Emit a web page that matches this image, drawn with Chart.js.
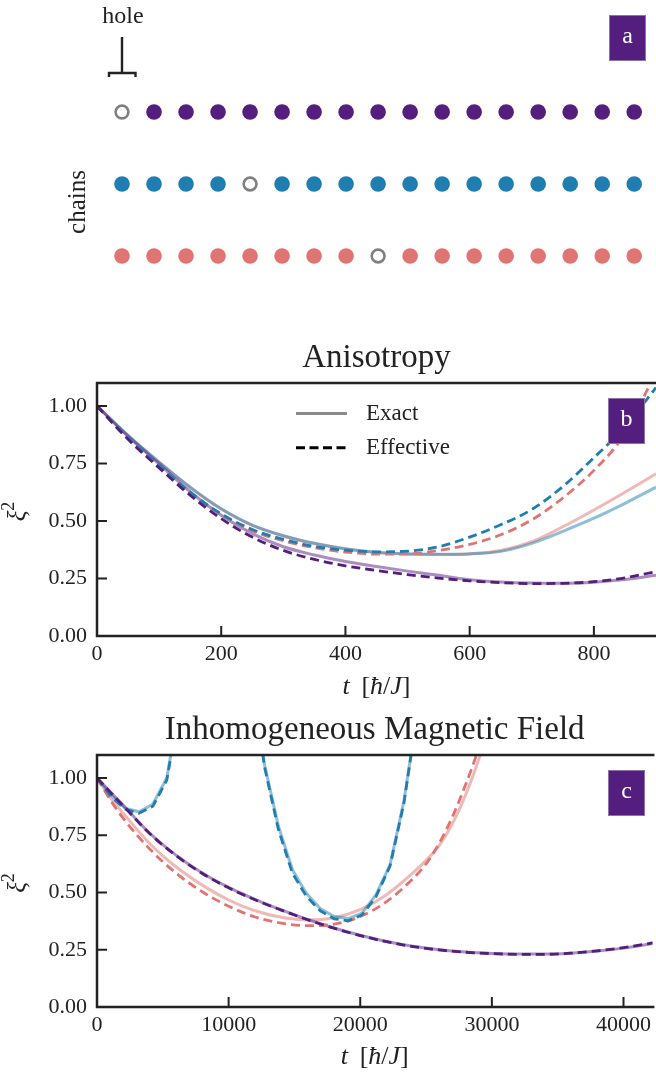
<!DOCTYPE html>
<html>
<head>
<meta charset="utf-8">
<script src="https://cdn.jsdelivr.net/npm/chart.js@4.4.1/dist/chart.umd.min.js"></script>
<style>
  body { margin: 0; background: #fff; width: 656px; height: 1077px; overflow: hidden; position: relative; }
  canvas { position: absolute; left: 0; }
</style>
</head>
<body>
<canvas id="chainChart" width="656" height="300" style="top:0"></canvas>
<canvas id="anisoChart" width="656" height="380" style="top:330px"></canvas>
<canvas id="fieldChart" width="656" height="377" style="top:700px"></canvas>
<script>
// ---- panel a: three chains of sites, one hole per chain ----
const sites = [0, 1, 2, 3, 4, 5, 6, 7, 8, 9, 10, 11, 12, 13, 14, 15, 16];
const chainRows = [2, 1, 0];          // purple on top, blue, red at the bottom
const holeSites = [0, 4, 8];          // where the hole sits in each chain

// ---- panel b: anisotropy ----
const anisoTime = [0, 50, 100, 150, 200, 250, 300, 350, 400, 450, 500, 550, 600, 650, 700, 750, 800, 850, 900];
const anisoPurpleExact = [1.0, 0.868, 0.748, 0.628, 0.525, 0.445, 0.388, 0.352, 0.324, 0.302, 0.282, 0.264, 0.245, 0.235, 0.23, 0.229, 0.234, 0.246, 0.264];
const anisoPurpleEff   = [1.0, 0.855, 0.731, 0.612, 0.51, 0.43, 0.372, 0.333, 0.305, 0.285, 0.267, 0.252, 0.24, 0.232, 0.228, 0.229, 0.236, 0.253, 0.28];
const anisoBlueExact   = [1.0, 0.872, 0.756, 0.647, 0.553, 0.482, 0.436, 0.403, 0.379, 0.364, 0.357, 0.355, 0.357, 0.368, 0.403, 0.455, 0.512, 0.577, 0.647];
const anisoBlueEff     = [1.0, 0.862, 0.741, 0.625, 0.531, 0.463, 0.42, 0.39, 0.373, 0.366, 0.369, 0.388, 0.43, 0.484, 0.55, 0.65, 0.775, 0.91, 1.08];
const anisoRedExact    = [1.0, 0.871, 0.755, 0.646, 0.552, 0.481, 0.435, 0.402, 0.378, 0.363, 0.356, 0.354, 0.358, 0.372, 0.41, 0.475, 0.548, 0.625, 0.705];
const anisoRedEff      = [1.0, 0.862, 0.74, 0.623, 0.528, 0.458, 0.414, 0.384, 0.365, 0.356, 0.357, 0.372, 0.398, 0.44, 0.505, 0.6, 0.72, 0.88, 1.15];
const anisoTicksX = [0, 200, 400, 600, 800];

// ---- panel c: inhomogeneous magnetic field ----
const fieldTime = [0, 1000, 2000, 4000, 6000, 8000, 10000, 12000, 14000, 16000, 18000, 20000, 22000, 24000, 26000, 28000, 30000, 32000, 34000, 36000, 38000, 40000, 42000, 44000];
const fieldPurpleExact = [1.0, 0.94, 0.88, 0.759, 0.663, 0.585, 0.522, 0.47, 0.424, 0.382, 0.345, 0.313, 0.286, 0.265, 0.25, 0.24, 0.234, 0.231, 0.231, 0.235, 0.244, 0.257, 0.275, 0.297];
const fieldPurpleEff   = [1.0, 0.938, 0.878, 0.757, 0.661, 0.583, 0.52, 0.468, 0.423, 0.381, 0.344, 0.312, 0.285, 0.264, 0.249, 0.239, 0.233, 0.23, 0.23, 0.235, 0.245, 0.259, 0.278, 0.3];
const fieldRedTime  = [0, 1000, 2000, 4000, 6000, 8000, 10000, 12000, 14000, 16000, 18000, 20000, 22000, 24000, 25000, 26000, 27000, 28000, 29000, 30000];
const fieldRedExact = [1.0, 0.915, 0.845, 0.714, 0.612, 0.532, 0.467, 0.42, 0.392, 0.38, 0.39, 0.425, 0.49, 0.585, 0.64, 0.705, 0.8, 0.925, 1.08, 1.27];
const fieldRedEff   = [1.0, 0.905, 0.823, 0.69, 0.585, 0.503, 0.44, 0.393, 0.366, 0.355, 0.362, 0.395, 0.46, 0.56, 0.625, 0.715, 0.83, 0.97, 1.13, 1.32];
// the blue chain is sampled coarsely, so it is drawn as straight segments
const fieldBlueTime  = [0, 1060, 2120, 3180, 4240, 5300, 6360, 7420, 8480, 9540, 10600, 11660, 12720, 13780, 14840, 15900, 16960, 18020, 19080, 20140, 21200, 22260, 23320, 24380, 25440];
const fieldBlueExact = [1.0, 0.925, 0.868, 0.852, 0.885, 1.0, 1.35, 1.7, 1.9, 1.95, 1.85, 1.5, 1.06, 0.79, 0.6, 0.496, 0.43, 0.395, 0.386, 0.41, 0.49, 0.62, 0.9, 1.3, 1.7];
const fieldBlueEff   = [1.0, 0.92, 0.864, 0.846, 0.876, 0.99, 1.34, 1.7, 1.9, 1.95, 1.85, 1.5, 1.05, 0.775, 0.585, 0.484, 0.42, 0.385, 0.376, 0.402, 0.482, 0.615, 0.89, 1.3, 1.7];
const fieldTicksX = [0, 10000, 20000, 30000, 40000];

const xiTicks = [0, 0.25, 0.5, 0.75, 1.0];

// styling
const INK = '#222222';
const SERIF = '"Liberation Serif", "Times New Roman", serif';
const PURPLE = '#531e7e', BLUE = '#1f7db0', RED = '#df7470';
const PURPLE_LIGHT = 'rgba(83,30,126,0.5)', BLUE_LIGHT = 'rgba(31,125,176,0.5)', RED_LIGHT = 'rgba(223,116,112,0.5)';
const chainColors = [PURPLE, BLUE, RED];

function pairs(xs, ys) {
    return ys.map((y, i) => ({ x: xs[i], y: y }));
}

function exactLine(xs, ys, color, smooth) {
    return {
        data: pairs(xs, ys), borderColor: color, borderWidth: 3, pointRadius: 0,
        cubicInterpolationMode: smooth ? 'monotone' : 'default', tension: 0, order: 2
    };
}

function effectiveLine(xs, ys, color, smooth) {
    return {
        data: pairs(xs, ys), borderColor: color, borderWidth: 2.8, borderDash: [9, 5], pointRadius: 0,
        cubicInterpolationMode: smooth ? 'monotone' : 'default', tension: 0, order: 1
    };
}

// purple tag with a white letter in the top right corner
function drawTag(ctx, letter, x, y) {
    ctx.save();
    ctx.fillStyle = PURPLE;
    ctx.fillRect(x, y, 37, 46);
    ctx.strokeStyle = '#8d73a8';
    ctx.lineWidth = 1;
    ctx.strokeRect(x + 0.5, y + 0.5, 36, 45);
    ctx.fillStyle = '#fff';
    ctx.font = '24px ' + SERIF;
    ctx.textAlign = 'center';
    ctx.textBaseline = 'middle';
    ctx.fillText(letter, x + 18.5, y + 22);
    ctx.restore();
}

// text made of upright and italic pieces, centred on cx, baseline at y
function drawMixed(ctx, parts, cx, y, size) {
    const fontOf = p => (p[1] ? 'italic ' : '') + Math.round(size * (p[2] || 1)) + 'px ' + SERIF;
    let total = 0;
    parts.forEach(p => { ctx.font = fontOf(p); total += ctx.measureText(p[0]).width; });
    let x = cx - total / 2;
    ctx.textAlign = 'left';
    ctx.textBaseline = 'alphabetic';
    parts.forEach(p => {
        ctx.font = fontOf(p);
        ctx.fillText(p[0], x, y - (p[3] || 0));
        x += ctx.measureText(p[0]).width;
    });
}

const chainNotes = {
    id: 'chainNotes',
    afterDraw(chart) {
        const ctx = chart.ctx;
        const hx = chart.scales.x.getPixelForValue(holeSites[0]);
        ctx.save();
        ctx.strokeStyle = INK;
        ctx.lineWidth = 2.4;
        ctx.beginPath();
        ctx.moveTo(hx, 37); ctx.lineTo(hx, 73);
        ctx.moveTo(hx - 13, 77); ctx.lineTo(hx - 13, 73); ctx.lineTo(hx + 13.5, 73); ctx.lineTo(hx + 13.5, 77);
        ctx.stroke();
        ctx.fillStyle = INK;
        ctx.font = '24px ' + SERIF;
        ctx.textAlign = 'center';
        ctx.textBaseline = 'alphabetic';
        ctx.fillText('hole', hx + 1, 22.5);
        ctx.translate(78, 202);
        ctx.rotate(-Math.PI / 2);
        ctx.font = '25px ' + SERIF;
        ctx.textBaseline = 'middle';
        ctx.fillText('chains', 0, 0);
        ctx.restore();
        drawTag(ctx, 'a', 609, 15);
    }
};

// matplotlib-like frame: title over the axes, inward ticks, spines, axis titles, tag, legend
const mplAxes = {
    id: 'mplAxes',
    afterDatasetsDraw(chart, args, opts) {
        const ctx = chart.ctx, a = chart.chartArea;
        const sx = chart.scales.x, sy = chart.scales.y;
        const midX = (a.left + a.right) / 2;
        ctx.save();
        ctx.strokeStyle = INK;
        ctx.lineWidth = 2;
        ctx.beginPath();
        opts.xTicks.forEach(v => { const p = sx.getPixelForValue(v); ctx.moveTo(p, a.bottom); ctx.lineTo(p, a.bottom - 10); });
        xiTicks.forEach(v => { const p = sy.getPixelForValue(v); ctx.moveTo(a.left, p); ctx.lineTo(a.left + 10, p); });
        ctx.stroke();
        ctx.lineWidth = 2.5;
        ctx.beginPath();
        ctx.moveTo(a.right + 2, a.top); ctx.lineTo(a.left, a.top); ctx.lineTo(a.left, a.bottom); ctx.lineTo(a.right + 2, a.bottom);
        ctx.stroke();

        ctx.fillStyle = INK;
        ctx.font = '33px ' + SERIF;
        ctx.textAlign = 'center';
        ctx.textBaseline = 'alphabetic';
        ctx.fillText(opts.title, midX, opts.titleY);

        drawMixed(ctx, [['t', true], [' \u2009[', false], ['ħ', true], ['/', false], ['J', true], [']', false]],
                  midX, opts.xTitleY, 26);
        ctx.save();
        ctx.translate(25, (a.top + a.bottom) / 2 + 2);
        ctx.rotate(-Math.PI / 2);
        drawMixed(ctx, [['ξ', true], ['2', false, 0.7, 11]], 0, 0, 25);
        ctx.restore();

        if (opts.legend) {
            ctx.lineWidth = 3;
            ctx.strokeStyle = '#8a8a8a';
            ctx.beginPath(); ctx.moveTo(296, 83.5); ctx.lineTo(347, 83.5); ctx.stroke();
            ctx.strokeStyle = '#000';
            ctx.setLineDash([9, 4.5]);
            ctx.beginPath(); ctx.moveTo(296, 117.7); ctx.lineTo(347, 117.7); ctx.stroke();
            ctx.setLineDash([]);
            ctx.font = '23px ' + SERIF;
            ctx.textAlign = 'left';
            ctx.textBaseline = 'middle';
            ctx.fillText('Exact', 366, 84);
            ctx.fillText('Effective', 366, 118);
        }
        ctx.restore();
        drawTag(ctx, opts.tag, 608, opts.tagTop);
    }
};

// panel a
new Chart(document.getElementById('chainChart'), {
    type: 'scatter',
    data: {
        datasets: chainRows.map((row, c) => ({
            data: sites.map(s => ({ x: s, y: row })),
            pointBackgroundColor: sites.map(s => s === holeSites[c] ? '#ffffff' : chainColors[c]),
            pointBorderColor: sites.map(s => s === holeSites[c] ? '#808080' : chainColors[c]),
            pointBorderWidth: sites.map(s => s === holeSites[c] ? 2.6 : 0),
            pointRadius: sites.map(s => s === holeSites[c] ? 6.4 : 7.8)
        }))
    },
    options: {
        responsive: false, animation: false, events: [],
        layout: { autoPadding: false, padding: { left: 97 } },
        plugins: { legend: { display: false }, tooltip: { enabled: false } },
        scales: {
            x: { type: 'linear', display: false, min: -0.781, max: 16.68 },
            y: { type: 'linear', display: false, min: -0.611, max: 3.556 }
        }
    },
    plugins: [chainNotes]
});

function curveOptions(topPad, xMax, ticksX, axisHeight, frameOpts) {
    return {
        responsive: false, animation: false, events: [],
        layout: { autoPadding: false, padding: { top: topPad } },
        plugins: {
            legend: { display: false },
            tooltip: { enabled: false },
            mplAxes: frameOpts
        },
        scales: {
            x: {
                type: 'linear', min: 0, max: xMax,
                border: { display: false },
                grid: { display: false, drawTicks: false },
                ticks: { color: INK, font: { family: SERIF, size: 22 }, padding: 5, maxRotation: 0, callback: v => String(v) },
                afterBuildTicks: s => { s.ticks = ticksX.map(v => ({ value: v })); },
                afterFit: s => { s.height = axisHeight; }
            },
            y: {
                type: 'linear', min: 0, max: 1.1,
                border: { display: false },
                grid: { display: false, drawTicks: false },
                ticks: { color: INK, font: { family: SERIF, size: 22 }, padding: 10, callback: v => v.toFixed(2) },
                afterBuildTicks: s => { s.ticks = xiTicks.map(v => ({ value: v })); },
                afterFit: s => { s.width = 97; }
            }
        }
    };
}

// panel b
new Chart(document.getElementById('anisoChart'), {
    type: 'line',
    data: {
        datasets: [
            exactLine(anisoTime, anisoPurpleExact, PURPLE_LIGHT, true),
            exactLine(anisoTime, anisoBlueExact, BLUE_LIGHT, true),
            exactLine(anisoTime, anisoRedExact, RED_LIGHT, true),
            effectiveLine(anisoTime, anisoPurpleEff, PURPLE, true),
            effectiveLine(anisoTime, anisoBlueEff, BLUE, true),
            effectiveLine(anisoTime, anisoRedEff, RED, true)
        ]
    },
    options: curveOptions(53, 900, anisoTicksX, 74,
        { title: 'Anisotropy', titleY: 37, xTicks: anisoTicksX, xTitleY: 364, tag: 'b', tagTop: 68, legend: true }),
    plugins: [mplAxes]
});

// panel c
new Chart(document.getElementById('fieldChart'), {
    type: 'line',
    data: {
        datasets: [
            exactLine(fieldTime, fieldPurpleExact, PURPLE_LIGHT, true),
            exactLine(fieldBlueTime, fieldBlueExact, BLUE_LIGHT, false),
            exactLine(fieldRedTime, fieldRedExact, RED_LIGHT, true),
            effectiveLine(fieldTime, fieldPurpleEff, PURPLE, true),
            effectiveLine(fieldBlueTime, fieldBlueEff, BLUE, false),
            effectiveLine(fieldRedTime, fieldRedEff, RED, true)
        ]
    },
    options: curveOptions(55, 42200, fieldTicksX, 70,
        { title: 'Inhomogeneous Magnetic Field', titleY: 39, xTicks: fieldTicksX, xTitleY: 364, tag: 'c', tagTop: 70, legend: false }),
    plugins: [mplAxes]
});
</script>
</body>
</html>
